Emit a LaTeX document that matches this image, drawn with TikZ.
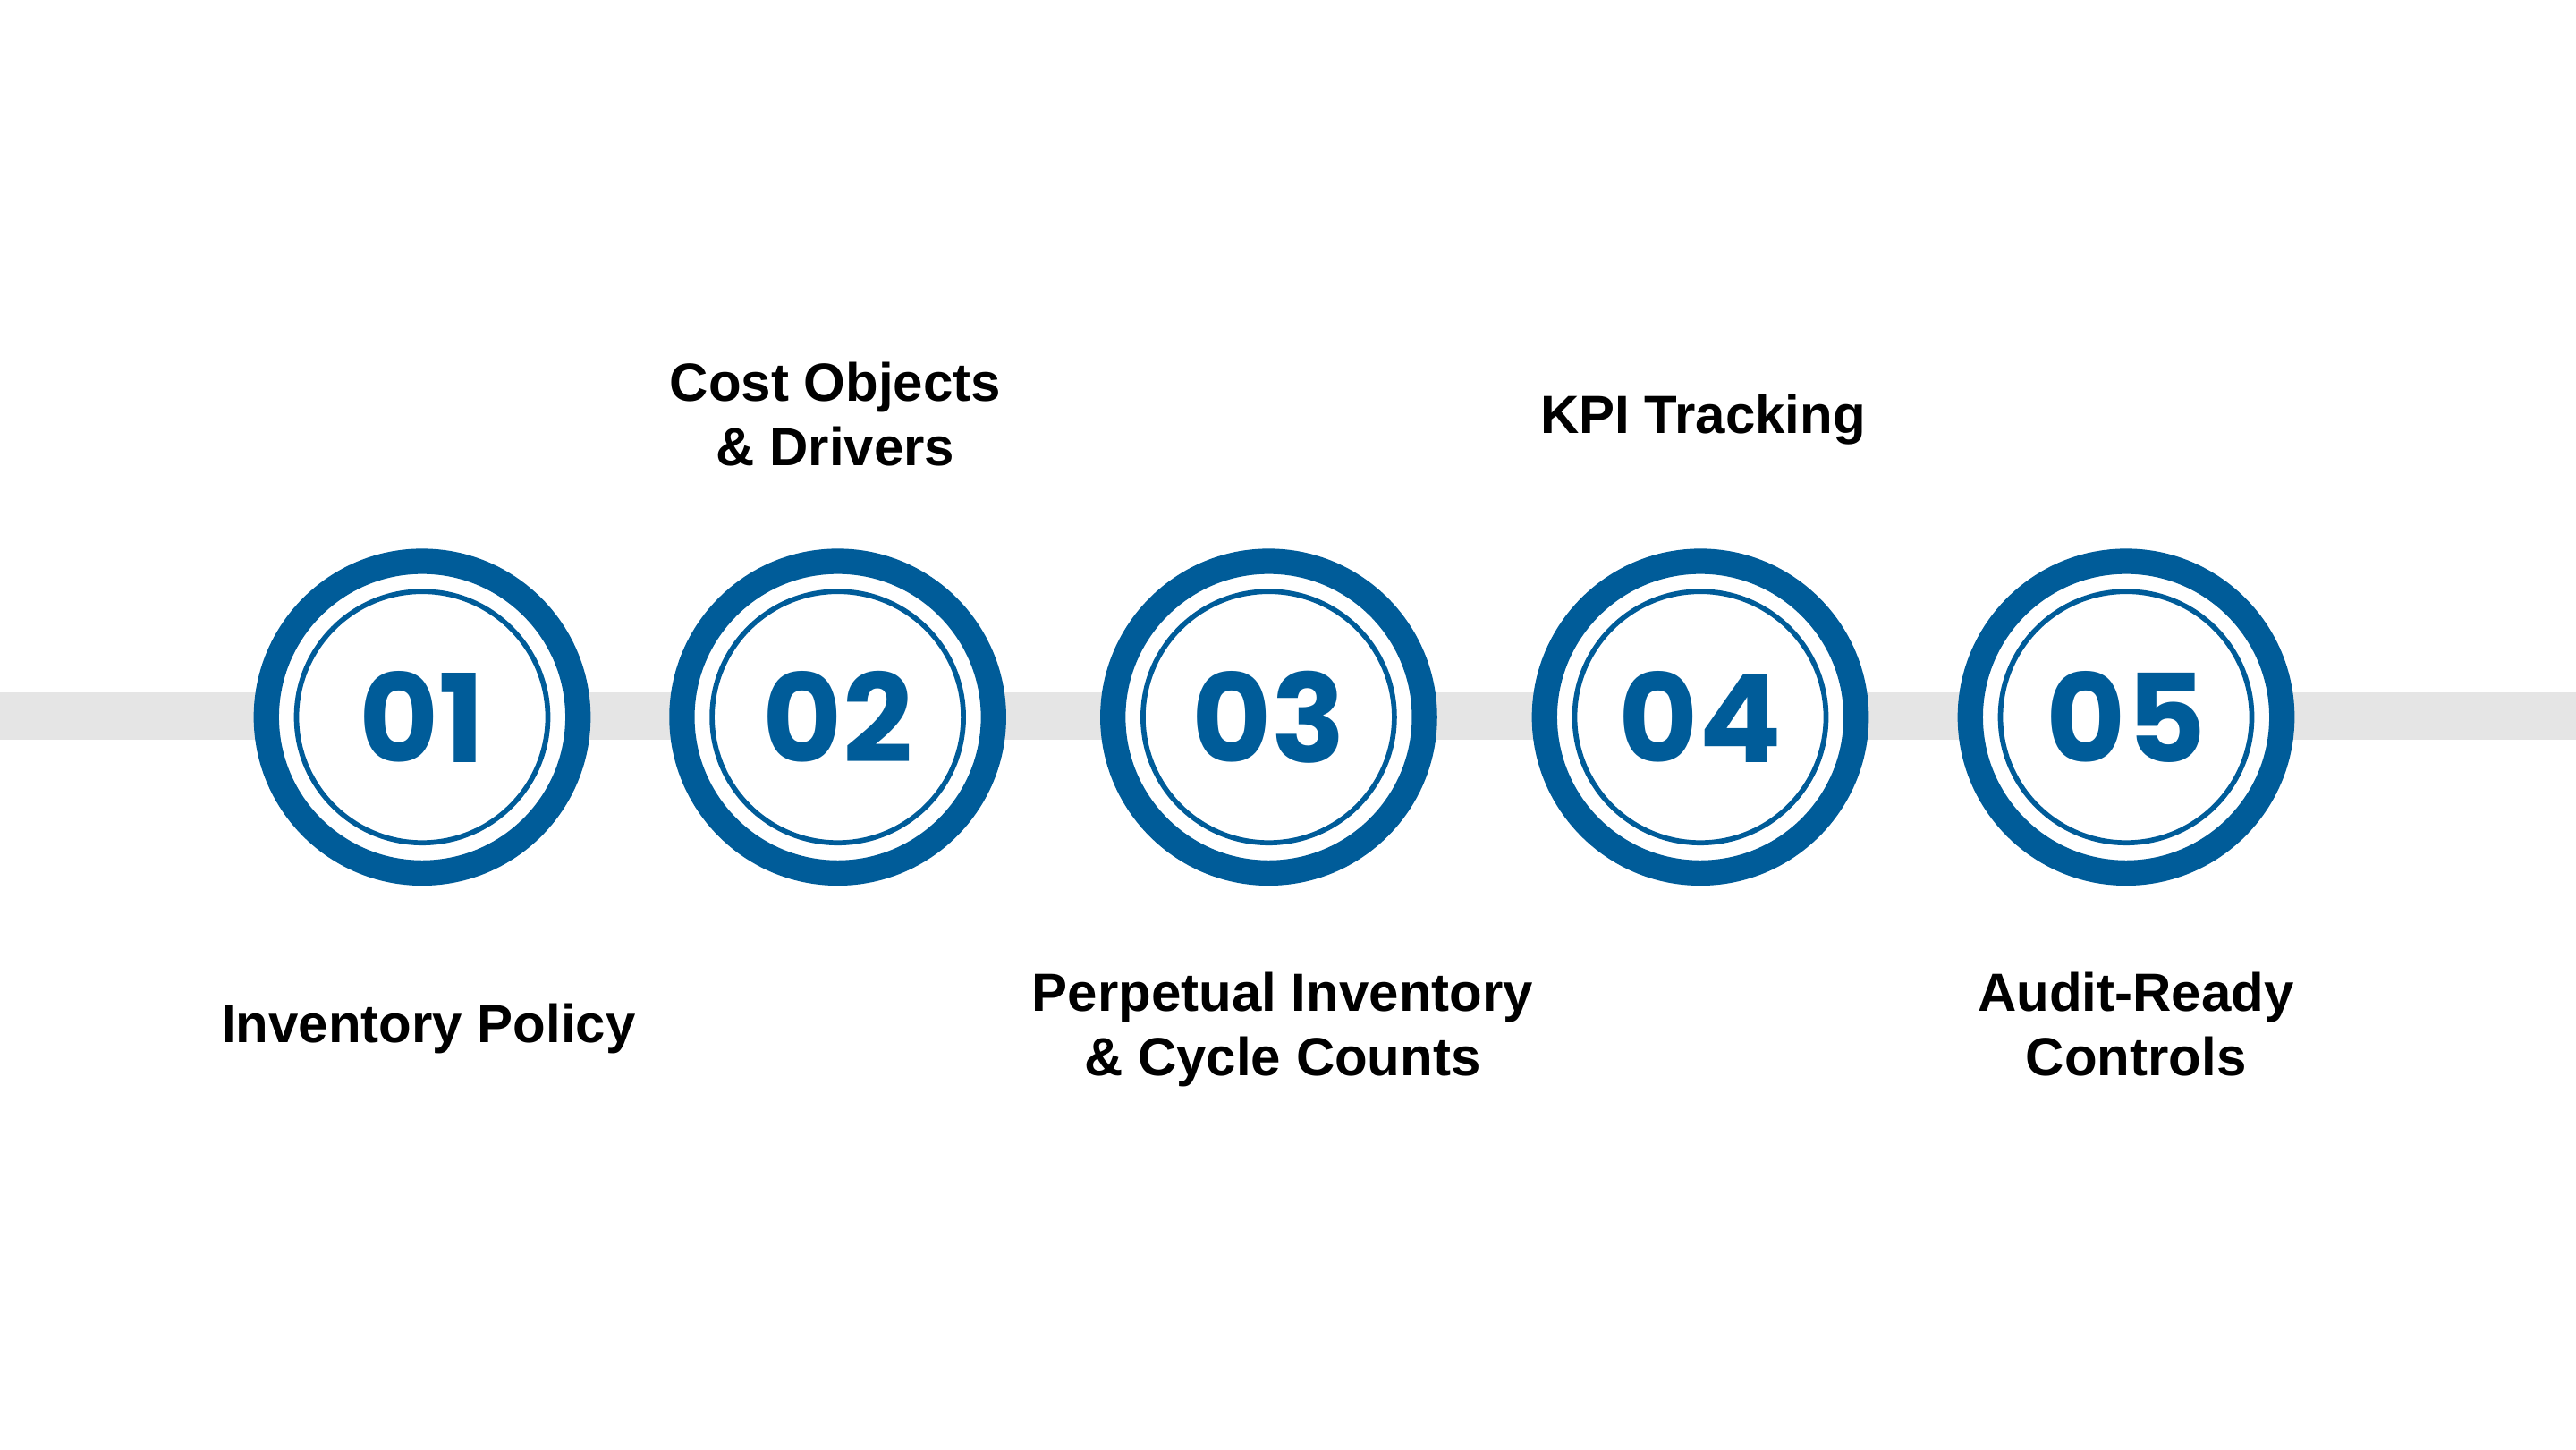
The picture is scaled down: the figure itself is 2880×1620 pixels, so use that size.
\documentclass[tikz,border=0pt]{standalone}
\usepackage{fontspec}
\setmainfont{Liberation Sans}
\newfontfamily\numfont{Poppins}
\definecolor{stepblue}{RGB}{0,92,153}
\definecolor{bargray}{RGB}{229,229,229}
\begin{document}
\begin{tikzpicture}[x=1pt,y=-1pt,
  ring/.style={circle, draw=stepblue, line width=28.3pt, fill=white, minimum size=348.4pt, inner sep=0pt},
  innerring/.style={circle, draw=stepblue, line width=5.7pt, minimum size=281pt, inner sep=0pt,
    font=\numfont\bfseries\fontsize{137}{137}\selectfont, text=stepblue},
  steptext/.style={align=center, anchor=north, inner sep=0pt,
    font=\bfseries\fontsize{60}{72}\selectfont, text=black}]
\fill[white] (0,0) rectangle (2880,1620);
\useasboundingbox (0,0) rectangle (2880,1620);
\fill[bargray] (0,774) rectangle (2880,827);
% circles
\node[ring] (r1) at (472,801.7) {};
\node[innerring] (n1) at (r1.center) {01};
\node[ring] (r2) at (936.6,801.7) {};
\node[innerring] (n2) at (r2.center) {02};
\node[ring] (r3) at (1418.4,801.7) {};
\node[innerring] (n3) at (r3.center) {03};
\node[ring] (r4) at (1901,801.7) {};
\node[innerring] (n4) at (r4.center) {04};
\node[ring] (r5) at (2377,801.7) {};
\node[innerring] (n5) at (r5.center) {05};
% labels
\node[steptext] (t1) at (479,1122) {Inventory Policy};
\node[steptext] (t2) at (934,405) {Cost Objects\\\& Drivers};
\node[steptext] (t3) at (1434,1087) {Perpetual Inventory\\\& Cycle Counts};
\node[steptext] (t4) at (1904,441) {KPI Tracking};
\node[steptext] (t5) at (2388,1087) {Audit-Ready\\Controls};
\end{tikzpicture}
\end{document}
